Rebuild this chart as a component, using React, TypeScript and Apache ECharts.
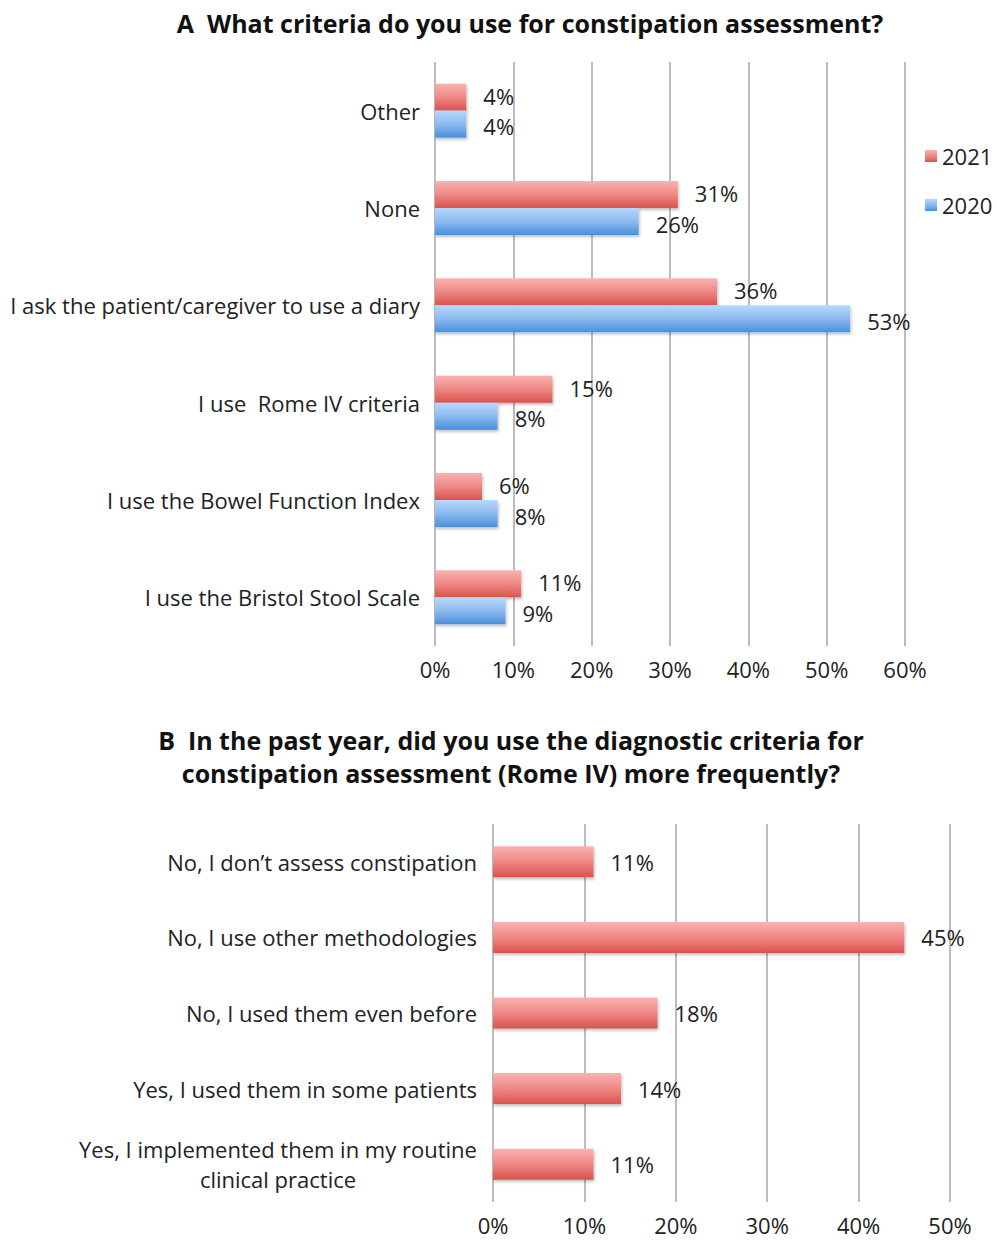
import React, { useEffect, useRef } from "react";
import * as echarts from "echarts";

const catsA = [
  "I use the Bristol Stool Scale",
  "I use the Bowel Function Index",
  "I use  Rome IV criteria",
  "I ask the patient/caregiver to use a diary",
  "None",
  "Other",
];
const vals2021 = [11, 6, 15, 36, 31, 4];
const vals2020 = [9, 8, 8, 53, 26, 4];
const ticksA = [0, 10, 20, 30, 40, 50, 60];

const catsB = [
  "Yes, I implemented them in my routine\nclinical practice",
  "Yes, I used them in some patients",
  "No, I used them even before",
  "No, I use other methodologies",
  "No, I don\u2019t assess constipation",
];
const valsB = [11, 14, 18, 45, 11];
const ticksB = [0, 10, 20, 30, 40, 50];

const titleA = "A  What criteria do you use for constipation assessment?";
const titleB1 = "B  In the past year, did you use the diagnostic criteria for";
const titleB2 = "constipation assessment (Rome IV) more frequently?";

const FONT = "'Open Sans', sans-serif";
const LABEL_SIZE = 22;

const redGrad = new echarts.graphic.LinearGradient(0, 0, 0, 1, [
  { offset: 0, color: "#f9b3b1" },
  { offset: 0.5, color: "#ee8884" },
  { offset: 1, color: "#d9534f" },
]);
const blueGrad = new echarts.graphic.LinearGradient(0, 0, 0, 1, [
  { offset: 0, color: "#b8d8fb" },
  { offset: 0.5, color: "#8cbaef" },
  { offset: 1, color: "#4a8fdc" },
]);

function measure(text: string, font: string): number {
  const c = document.createElement("canvas").getContext("2d")!;
  c.font = font;
  return Math.ceil(c.measureText(text).width);
}

export default function App() {
  const ref = useRef<HTMLDivElement>(null);
  useEffect(() => {
    const chart = echarts.init(ref.current!, undefined, { renderer: "svg" });
    const barStyle = (c: any) => ({
      color: c,
      shadowColor: "rgba(0,0,0,0.25)",
      shadowBlur: 3,
      shadowOffsetX: 1,
      shadowOffsetY: 2,
    });
    const label = {
      show: true,
      position: "right",
      distance: 17,
      formatter: "{c}%",
      fontSize: LABEL_SIZE,
      lineHeight: 25,
      color: "#222",
      fontFamily: FONT,
    };
    const xAxisCommon = {
      type: "value",
      interval: 10,
      axisLine: { show: false },
      axisTick: { show: false },
      splitLine: { show: true, lineStyle: { color: "#a6a6a6", width: 1.5 } },
      axisLabel: {
        formatter: "{value}%",
        fontSize: LABEL_SIZE,
        color: "#222",
        fontFamily: FONT,
        margin: 12,
      },
    };
    const multiWidth = Math.max(
      ...catsB
        .filter((c) => c.includes("\n"))
        .flatMap((c) => c.split("\n"))
        .map((s) => measure(s, `${LABEL_SIZE}px ${FONT}`))
    );
    const titleFont = `bold 25px ${FONT}`;
    chart.setOption({
      animation: false,
      backgroundColor: "#fff",
      textStyle: { fontFamily: FONT },
      graphic: [
        {
          type: "text",
          x: 530,
          y: 23,
          style: { text: titleA, font: titleFont, fill: "#111", align: "center", verticalAlign: "middle" },
        },
        {
          type: "text",
          x: 511,
          y: 740,
          style: { text: titleB1, font: titleFont, fill: "#111", align: "center", verticalAlign: "middle" },
        },
        {
          type: "text",
          x: 511,
          y: 773,
          style: { text: titleB2, font: titleFont, fill: "#111", align: "center", verticalAlign: "middle" },
        },
      ],
      legend: {
        data: ["2021", "2020"],
        orient: "vertical",
        left: 920,
        top: 140,
        itemGap: 27,
        itemWidth: 12,
        itemHeight: 12,
        icon: "rect",
        textStyle: { fontSize: LABEL_SIZE, color: "#222", fontFamily: FONT },
      },
      grid: [
        { left: 435, width: 470, top: 62, height: 584 },
        { left: 493, width: 457, top: 824, height: 378 },
      ],
      xAxis: [
        { ...xAxisCommon, gridIndex: 0, min: ticksA[0], max: ticksA[ticksA.length - 1] },
        { ...xAxisCommon, gridIndex: 1, min: ticksB[0], max: ticksB[ticksB.length - 1] },
      ],
      yAxis: [
        {
          type: "category",
          gridIndex: 0,
          data: catsA,
          axisLine: { show: false },
          axisTick: { show: false },
          axisLabel: { fontSize: LABEL_SIZE, color: "#222", fontFamily: FONT, margin: 15 },
        },
        {
          type: "category",
          gridIndex: 1,
          data: catsB,
          axisLine: { show: false },
          axisTick: { show: false },
          axisLabel: {
            fontSize: LABEL_SIZE,
            color: "#222",
            fontFamily: FONT,
            margin: 16,
            formatter: (v: string) =>
              v.includes("\n")
                ? v
                    .split("\n")
                    .map((s) => `{c|${s}}`)
                    .join("\n")
                : v,
            rich: {
              c: {
                width: multiWidth,
                align: "center",
                fontSize: LABEL_SIZE,
                lineHeight: 30,
                color: "#222",
                fontFamily: FONT,
              },
            },
          },
        },
      ],
      series: [
        {
          name: "2021",
          type: "bar",
          xAxisIndex: 0,
          yAxisIndex: 0,
          data: vals2021,
          barWidth: 27,
          barGap: "0%",
          itemStyle: barStyle(redGrad),
          label: { ...label, offset: [0, -1.5] },
        },
        {
          name: "2020",
          type: "bar",
          xAxisIndex: 0,
          yAxisIndex: 0,
          data: vals2020,
          barWidth: 27,
          barGap: "0%",
          itemStyle: barStyle(blueGrad),
          label: { ...label, offset: [0, 2] },
        },
        {
          name: "B",
          type: "bar",
          xAxisIndex: 1,
          yAxisIndex: 1,
          data: valsB,
          barWidth: 31,
          itemStyle: barStyle(redGrad),
          label,
        },
      ],
    });
    return () => chart.dispose();
  }, []);
  return (
    <div
      ref={ref}
      style={{ position: "absolute", left: 0, top: 0, width: 997, height: 1240 }}
    />
  );
}
